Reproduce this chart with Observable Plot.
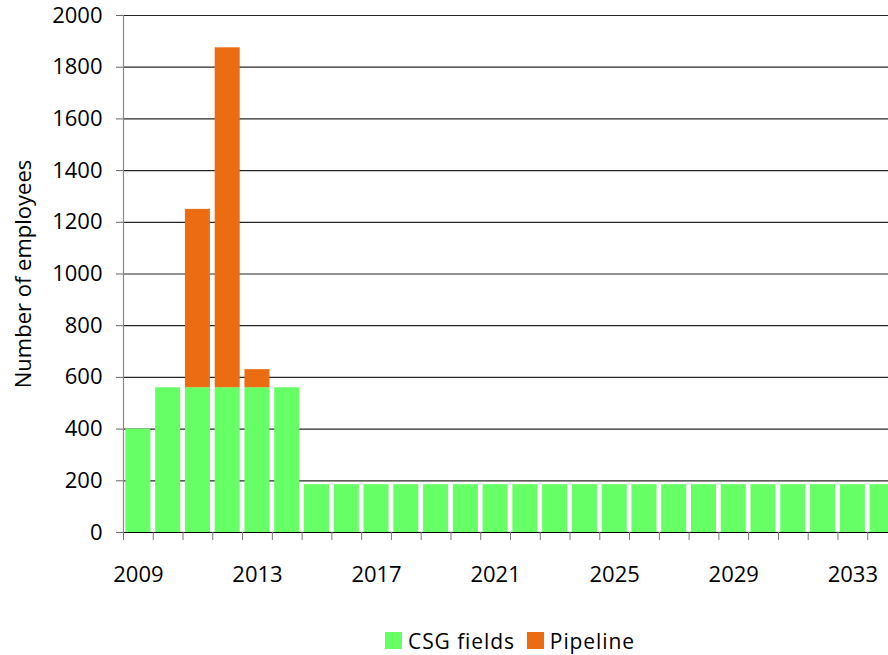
<!DOCTYPE html>
<html><head><meta charset="utf-8">
<script src="https://cdn.jsdelivr.net/npm/d3@7"></script>
<script src="https://cdn.jsdelivr.net/npm/@observablehq/plot@0.6"></script>
<style>
html,body{margin:0;padding:0;overflow:hidden;background:#fff;}
body{width:888px;height:655px;font-family:"Open Sans",Lato,sans-serif;position:relative;}
#chart{width:900px;height:622px;overflow:visible;}
#chart svg{display:block;max-width:none !important;width:900px;height:622px;}
#legend{position:absolute;left:123px;top:624px;width:774px;height:33px;display:flex;justify-content:center;align-items:center;font-size:21px;letter-spacing:0.9px;color:#000;}
.item{display:flex;align-items:center;margin:0 6px;}
.sw{width:17px;height:17px;margin-right:6px;}
</style></head><body>
<div id="chart"></div><div id="legend"></div>
<script>
const years = [2009,2010,2011,2012,2013,2014,2015,2016,2017,2018,2019,2020,2021,2022,2023,2024,2025,2026,2027,2028,2029,2030,2031,2032,2033,2034];
const csgFields = [400,560,560,560,560,560,185,185,185,185,185,185,185,185,185,185,185,185,185,185,185,185,185,185,185,185];
const pipeline = [0,0,690,1315,70,0,0,0,0,0,0,0,0,0,0,0,0,0,0,0,0,0,0,0,0,0];
const seriesNames = ["CSG fields","Pipeline"];
const seriesColors = ["#66ff66","#ec6c12"];
const yTicks = [0,200,400,600,800,1000,1200,1400,1600,1800,2000];
const xLabelYears = [2009,2013,2017,2021,2025,2029,2033];

const table = [];
years.forEach((yr,i)=>{
  table.push({year: yr, series: seriesNames[0], value: csgFields[i]});
  table.push({year: yr, series: seriesNames[1], value: pipeline[i]});
});

const W = 900, ML = 123, MR = 3;
const step = (W - ML - MR) / years.length;

const chart = Plot.plot({
  width: W, height: 622,
  marginLeft: ML, marginRight: MR, marginTop: 15, marginBottom: 90,
  style: {fontFamily: "'Open Sans', Lato, sans-serif", fontSize: "22px", background: "#fff", color: "#000"},
  x: {type: "band", domain: years, paddingInner: 0.16, paddingOuter: 0.08, align: 0.5, round: false},
  y: {domain: [0, 2000]},
  color: {domain: seriesNames, range: seriesColors},
  marks: [
    Plot.gridY(yTicks, {stroke: "#000", strokeOpacity: 0.85, strokeWidth: 1.2}),
    Plot.barY(table, {x: "year", y: "value", fill: "series"}),
    Plot.ruleY([0], {stroke: "#000", strokeWidth: 1.2}),
    Plot.frame({anchor: "left", stroke: "#888", strokeWidth: 1.2}),
    Plot.axisY(yTicks, {tickSize: 7, tickPadding: 14, label: null, stroke: "#666", tickFormat: d => String(d), fontSize: 22}),
    Plot.axisX(years, {tickSize: 8, tickFormat: () => "", dx: -step/2, label: null, stroke: "#777"}),
    Plot.axisX(xLabelYears, {tickSize: 0, tickPadding: 34, label: null, tickFormat: d => String(d), fontSize: 22}),
    Plot.text(["Number of employees"], {text: d => d, frameAnchor: "left", dx: -100, rotate: -90, textAnchor: "middle", lineAnchor: "middle", fontSize: 22})
  ]
});
document.getElementById("chart").appendChild(chart);

const legend = document.getElementById("legend");
seriesNames.forEach((name,i)=>{
  const it = document.createElement("div"); it.className = "item";
  const sw = document.createElement("div"); sw.className = "sw"; sw.style.background = seriesColors[i];
  const tx = document.createElement("span"); tx.textContent = name;
  it.appendChild(sw); it.appendChild(tx); legend.appendChild(it);
});
</script>
</body></html>
